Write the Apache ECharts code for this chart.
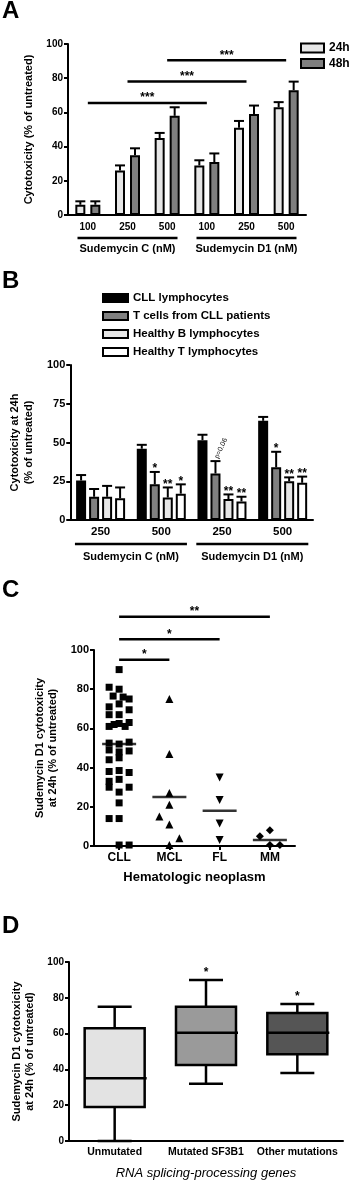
<!DOCTYPE html>
<html>
<head>
<meta charset="utf-8">
<script src="https://cdn.jsdelivr.net/npm/echarts@6/dist/echarts.min.js"></script>
<style>
html, body { margin: 0; padding: 0; background: #fff; }
#main { width: 350px; height: 1184px; }
</style>
</head>
<body>
<div id="main"></div>
<script>
// ---- A: sudemycin dose response, 24h vs 48h
const aDoses = ['100', '250', '500', '100', '250', '500'];
const aGroups = ['Sudemycin C (nM)', 'Sudemycin D1 (nM)'];
const a24 = [6, 26, 45, 29, 51, 63];
const a24Err = [2, 3, 3, 3, 4, 3];
const a48 = [6, 35, 58, 31, 59, 73];
const a48Err = [2, 4, 5, 5, 5, 5];
// [from category, to category, level, label]
const aBrackets = [[0, 3, 65.5, '***'], [1, 4, 78, '***'], [2, 5, 90.5, '***']];

// ---- B: cell types at 24h
const bDoses = ['250', '500', '250', '500'];
const bGroups = ['Sudemycin C (nM)', 'Sudemycin D1 (nM)'];
const bNames = ['CLL lymphocytes', 'T cells from CLL patients', 'Healthy B lymphocytes', 'Healthy T lymphocytes'];
const bCll = [25.5, 46, 51.5, 64];
const bCllErr = [3.5, 2.5, 3.5, 2.5];
const bCllSig = ['', '', '', ''];
const bTcell = [15, 23, 30, 34];
const bTcellErr = [5, 8, 8, 10];
const bTcellSig = ['', '*', 'p=0.06', '*'];
const bHealthyB = [15, 14.5, 13.5, 25];
const bHealthyBErr = [7, 6.5, 3, 2.5];
const bHealthyBSig = ['', '**', '**', '**'];
const bHealthyT = [14, 17, 12, 24];
const bHealthyTErr = [7, 6, 3, 4];
const bHealthyTSig = ['', '*', '**', '**'];

// ---- C: hematologic neoplasms
const cGroups = ['CLL', 'MCL', 'FL', 'MM'];
const cllVals = [90, 81, 80, 76.5, 76, 75, 71, 72.5, 69.5, 67, 67, 61, 62, 62.5, 61, 63,
  52.5, 52, 53, 49, 48.5, 48, 44, 45, 38, 38.5, 37.5, 33, 34, 30, 27.5, 30, 22, 14, 14, 0.5, 0.5];
const cllCols = [0, -1, 0, -0.6, 0.4, 1, -1, 0, 1, -1, 0, -1, -0.5, 0, 0.6, 1,
  -1, 0, 1, -1, 1, 0, -1, 0, -1, 0, 1, -1, 0, -1, 0, 1, 0, -1, 0, 0, 1];
const mclVals = [75, 47, 27, 21, 15, 11, 4, 0.5];
const mclCols = [0, 0, 0, 0, -1, 0, 1, 0];
const flVals = [35, 23.5, 11.5, 3];
const flCols = [0, 0, 0, 0];
const mmVals = [8, 5, 0.5, 0.5];
const mmCols = [0, -1, 0, 1];
const cMedians = [52, 25, 18, 3];
const cBrackets = [[0, 0.9, 95, '*'], [0, 1.86, 105.5, '*'], [0, 2.96, 117, '**']];

// ---- D: splicing gene status boxplots [min, q1, median, q3, max]
const dGroups = ['Unmutated', 'Mutated SF3B1', 'Other mutations'];
const dBoxes = [[0, 19, 35, 63, 75], [32, 42.5, 60.5, 75, 90], [38, 48.5, 60.5, 71.5, 76.5]];
const dSig = ['', '*', '*'];

const FONT = 'Liberation Sans';
const chart = echarts.init(document.getElementById('main'));

const line2 = { show: true, lineStyle: { color: '#000', width: 2 } };
const yTick = { show: true, length: 4, lineStyle: { color: '#000', width: 2 } };

function yAxis(gridIndex, interval, name, gap, size, lh) {
  return {
    type: 'value', gridIndex: gridIndex, min: 0, max: 100, interval: interval,
    axisLine: line2, axisTick: yTick, splitLine: { show: false },
    axisLabel: { color: '#000', fontWeight: 'bold', fontSize: size, margin: 5, fontFamily: FONT },
    name: name, nameLocation: 'middle', nameGap: gap,
    nameTextStyle: { color: '#000', fontWeight: 'bold', fontSize: 11, lineHeight: lh, fontFamily: FONT }
  };
}

function labelAxis(gridIndex, data, size, margin, offset, line) {
  return {
    type: 'category', gridIndex: gridIndex, data: data, position: 'bottom', offset: offset,
    axisLine: line ? line2 : { show: false }, axisTick: { show: false },
    axisLabel: { interval: 0, color: '#000', fontWeight: 'bold', fontSize: size, margin: margin, fontFamily: FONT }
  };
}

// error bars (and significance marks) drawn next to the bars
function errRender(offset, capHalf, sig) {
  return function (params, api) {
    const i = api.value(0), v = api.value(1), e = api.value(2);
    const base = api.coord([i, v]);
    const top = api.coord([i, v + e]);
    const x = base[0] + offset;
    const st = { stroke: '#000', lineWidth: 2 };
    const kids = [
      { type: 'line', shape: { x1: x, y1: base[1], x2: x, y2: top[1] }, style: st },
      { type: 'line', shape: { x1: x - capHalf, y1: top[1], x2: x + capHalf, y2: top[1] }, style: st }
    ];
    const s = sig ? sig[params.dataIndex] : '';
    if (s && s.charAt(0) === 'p') {
      kids.push({ type: 'text', x: x + 1, y: top[1] - 3, rotation: 65 * Math.PI / 180,
        style: { text: s, fill: '#000', font: '7px ' + FONT, textAlign: 'left', textVerticalAlign: 'middle' } });
    } else if (s) {
      kids.push({ type: 'text', x: x, y: top[1] + 3,
        style: { text: s, fill: '#000', font: 'bold 12px ' + FONT, textAlign: 'center', textVerticalAlign: 'bottom' } });
    }
    return { type: 'group', children: kids };
  };
}

function barSeries(name, xi, yi, vals, color, width, gap) {
  return {
    type: 'bar', name: name, xAxisIndex: xi, yAxisIndex: yi, data: vals, barWidth: width, barGap: gap,
    silent: true, itemStyle: { color: color, borderColor: '#000', borderWidth: 2 }
  };
}

function errSeries(xi, yi, vals, errs, offset, capHalf, sig) {
  return {
    type: 'custom', xAxisIndex: xi, yAxisIndex: yi, silent: true, z: 5,
    data: vals.map((v, i) => [i, v, errs[i]]),
    encode: { x: 0, y: 1 },
    renderItem: errRender(offset, capHalf, sig)
  };
}

function scatterSeries(idx, vals, cols, symbol, size, rotate) {
  return {
    type: 'scatter', xAxisIndex: 4, yAxisIndex: 2, symbol: symbol, symbolSize: size,
    symbolRotate: rotate || 0, silent: true, z: 4,
    itemStyle: { color: '#000', opacity: 1 },
    data: vals.map((v, i) => ({ value: [idx, v], symbolOffset: [cols[i] * 10, 0] }))
  };
}

const dColors = ['#e3e3e3', '#9a9a9a', '#555555'];

const series = [
  barSeries('24h', 0, 0, a24, '#e6e6e6', 10, '50%'),
  barSeries('48h', 0, 0, a48, '#7f7f7f', 10, '50%'),
  errSeries(0, 0, a24, a24Err, -7.5, 5),
  errSeries(0, 0, a48, a48Err, 7.5, 5),

  barSeries(bNames[0], 2, 1, bCll, '#000000', 10, '30%'),
  barSeries(bNames[1], 2, 1, bTcell, '#808080', 10, '30%'),
  barSeries(bNames[2], 2, 1, bHealthyB, '#e6e6e6', 10, '30%'),
  barSeries(bNames[3], 2, 1, bHealthyT, '#ffffff', 10, '30%'),
  errSeries(2, 1, bCll, bCllErr, -19.5, 5, bCllSig),
  errSeries(2, 1, bTcell, bTcellErr, -6.5, 5, bTcellSig),
  errSeries(2, 1, bHealthyB, bHealthyBErr, 6.5, 5, bHealthyBSig),
  errSeries(2, 1, bHealthyT, bHealthyTErr, 19.5, 5, bHealthyTSig),

  scatterSeries(0, cllVals, cllCols, 'rect', 7),
  scatterSeries(1, mclVals, mclCols, 'triangle', 8),
  scatterSeries(2, flVals, flCols, 'triangle', 8, 180),
  scatterSeries(3, mmVals, mmCols, 'diamond', 8),
  {
    type: 'scatter', xAxisIndex: 4, yAxisIndex: 2, symbol: 'rect', symbolSize: [34, 2.5], silent: true, z: 3,
    itemStyle: { color: '#000' },
    data: cMedians.map((m, i) => [i, m])
  },

  {
    type: 'custom', xAxisIndex: 5, yAxisIndex: 3, silent: true, z: 4,
    data: dBoxes.map((b, i) => [i].concat(b)),
    encode: { x: 0, y: [1, 2, 3, 4, 5] },
    renderItem: function (params, api) {
      const i = api.value(0);
      const x = api.coord([i, 0])[0];
      const y = k => api.coord([i, api.value(k)])[1];
      const hw = 30, cap = 17;
      const st = { stroke: '#000', lineWidth: 2.5 };
      const kids = [
        { type: 'line', shape: { x1: x, y1: y(4), x2: x, y2: y(5) }, style: st },
        { type: 'line', shape: { x1: x - cap, y1: y(5), x2: x + cap, y2: y(5) }, style: st },
        { type: 'line', shape: { x1: x, y1: y(2), x2: x, y2: y(1) }, style: st },
        { type: 'line', shape: { x1: x - cap, y1: y(1), x2: x + cap, y2: y(1) }, style: st },
        { type: 'rect', shape: { x: x - hw, y: y(4), width: 2 * hw, height: y(2) - y(4) },
          style: { fill: dColors[params.dataIndex], stroke: '#000', lineWidth: 2.5 } },
        { type: 'line', shape: { x1: x - hw, y1: y(3), x2: x + hw + 2, y2: y(3) }, style: st }
      ];
      const s = dSig[params.dataIndex];
      if (s) {
        kids.push({ type: 'text', x: x, y: y(5) - 1,
          style: { text: s, fill: '#000', font: 'bold 12px ' + FONT, textAlign: 'center', textVerticalAlign: 'bottom' } });
      }
      return { type: 'group', children: kids };
    }
  }
];

chart.setOption({
  animation: false,
  backgroundColor: '#fff',
  textStyle: { fontFamily: FONT, fontWeight: 'bold', color: '#000' },
  grid: [
    { left: 68, top: 44, width: 238, height: 171 },
    { left: 68, top: 365, width: 245, height: 155 },
    { left: 94, top: 650, width: 201, height: 196 },
    { left: 69, top: 962, width: 274, height: 179 }
  ],
  legend: [
    {
      data: ['24h', '48h'], orient: 'vertical', left: 300, top: 42, itemWidth: 23, itemHeight: 9, itemGap: 3.5,
      selectedMode: false, icon: 'rect', padding: 0,
      itemStyle: { borderColor: '#000', borderWidth: 2 },
      textStyle: { color: '#000', fontWeight: 'bold', fontSize: 12, fontFamily: FONT, overflow: 'none', width: 40 }
    },
    {
      data: bNames, orient: 'vertical', left: 102, top: 292, itemWidth: 25, itemHeight: 8, itemGap: 6,
      selectedMode: false, icon: 'rect', padding: 0,
      itemStyle: { borderColor: '#000', borderWidth: 2 },
      textStyle: { color: '#000', fontWeight: 'bold', fontSize: 11.5, fontFamily: FONT }
    }
  ],
  xAxis: [
    labelAxis(0, aDoses, 10, 7, 0, true),
    labelAxis(0, aGroups, 11, 6, 22, false),
    labelAxis(1, bDoses, 11.5, 6, 0, true),
    labelAxis(1, bGroups, 11, 6, 25, false),
    {
      type: 'category', gridIndex: 2, data: cGroups,
      axisLine: line2, axisTick: { show: true, alignWithLabel: true, length: 4, lineStyle: { color: '#000', width: 2 } },
      axisLabel: { color: '#000', fontWeight: 'bold', fontSize: 12, margin: 6, fontFamily: FONT },
      name: 'Hematologic neoplasm', nameLocation: 'middle', nameGap: 25,
      nameTextStyle: { color: '#000', fontWeight: 'bold', fontSize: 13, fontFamily: FONT }
    },
    {
      type: 'category', gridIndex: 3, data: dGroups,
      axisLine: line2, axisTick: { show: false },
      axisLabel: { interval: 0, color: '#000', fontWeight: 'bold', fontSize: 10.5, margin: 6, fontFamily: FONT },
      name: 'RNA splicing-processing genes', nameLocation: 'middle', nameGap: 26,
      nameTextStyle: { color: '#000', fontWeight: 'normal', fontStyle: 'italic', fontSize: 13, fontFamily: FONT }
    }
  ],
  yAxis: [
    yAxis(0, 20, 'Cytotoxicity (% of untreated)', 27, 10, 13),
    yAxis(1, 25, 'Cytotoxicity at 24h\n(% of untreated)', 30, 11, 14),
    yAxis(2, 20, 'Sudemycin D1 cytotoxicity\nat 24h (% of untreated)', 30, 11, 13),
    yAxis(3, 20, 'Sudemycin D1 cytotoxicity\nat 24h (% of untreated)', 28, 10, 13)
  ],
  series: series
});

// brackets, group underlines and panel letters placed through the axes
const g = [];
function bracket(xi, yi, from, to, level, text) {
  const p1 = chart.convertToPixel({ xAxisIndex: xi, yAxisIndex: yi }, [from, level]);
  const p2 = chart.convertToPixel({ xAxisIndex: xi, yAxisIndex: yi }, [to, level]);
  g.push({ type: 'line', shape: { x1: p1[0], y1: p1[1], x2: p2[0], y2: p2[1] }, style: { stroke: '#000', lineWidth: 2.5 } });
  g.push({ type: 'text', x: (p1[0] + p2[0]) / 2, y: p1[1] + 1,
    style: { text: text, fill: '#000', font: 'bold 12px ' + FONT, textAlign: 'center', textVerticalAlign: 'bottom' } });
}
aBrackets.forEach(b => bracket(0, 0, b[0], b[1], b[2], b[3]));
cBrackets.forEach(b => bracket(4, 2, b[0], b[1], b[2], b[3]));

function underline(xi, yi, groups, half, drop) {
  const y0 = chart.convertToPixel({ yAxisIndex: yi }, 0) + drop;
  groups.forEach(name => {
    const cx = chart.convertToPixel({ xAxisIndex: xi }, name);
    g.push({ type: 'line', shape: { x1: cx - half, y1: y0, x2: cx + half, y2: y0 }, style: { stroke: '#000', lineWidth: 2.5 } });
  });
}
underline(1, 0, aGroups, 50, 23);
underline(3, 1, bGroups, 56, 24);

[['A', -1], ['B', 269], ['C', 578], ['D', 914]].forEach(l => {
  g.push({ type: 'text', left: 2, top: l[1], style: { text: l[0], fill: '#000', font: 'bold 24px ' + FONT } });
});

chart.setOption({ graphic: g });
</script>
</body>
</html>
